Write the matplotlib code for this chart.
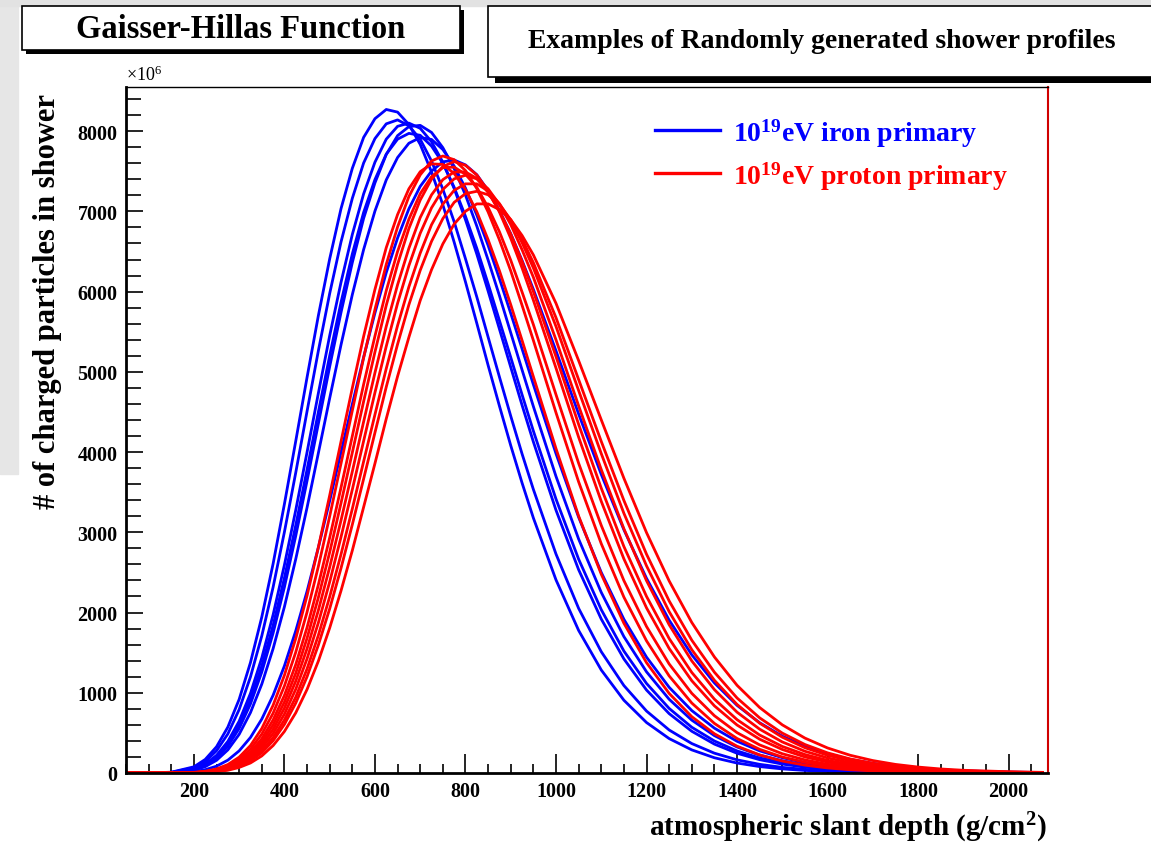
import matplotlib
matplotlib.use("Agg")
import matplotlib.pyplot as plt
from matplotlib.patches import Rectangle
from matplotlib.ticker import MultipleLocator

plt.rcParams['font.family'] = ['Liberation Serif', 'DejaVu Serif']
plt.rcParams['font.weight'] = 'bold'
plt.rcParams['mathtext.default'] = 'regular'

# atmospheric slant depth (g/cm2), shared sampling for every profile
depth = [55, 100, 150,
         200, 225, 250, 275, 300, 325, 350, 375, 400, 425, 450, 475, 500,
         525, 550, 575, 600, 625, 650, 675, 700, 725, 750, 775, 800, 825, 850,
         875, 900, 925, 950,
         1000, 1050, 1100, 1150, 1200, 1250, 1300, 1350, 1400, 1450, 1500, 1550,
         1600, 1650, 1700, 1750, 1800, 1850, 1900,
         2000, 2075]

# charged particles (x10^6), iron primaries
iron_1 = [0, 0, 10,
          77, 169, 327, 572, 918, 1377, 1944, 2608, 3353, 4136, 4931, 5701, 6408,
          7033, 7536, 7922, 8155, 8270, 8237, 8082, 7835, 7491, 7082, 6616, 6121, 5606, 5082,
          4575, 4082, 3616, 3179,
          2407, 1777, 1284, 907, 629, 429, 288, 190, 124, 80, 51, 32, 20, 12, 8, 5, 3, 2, 1,
          0, 0]
iron_2 = [0, 0, 8,
          64, 142, 277, 487, 791, 1198, 1709, 2316, 3004, 3743, 4508, 5263, 5976,
          6618, 7162, 7603, 7907, 8091, 8140, 8067, 7899, 7627, 7277, 6870, 6409, 5934, 5434,
          4937, 4449, 3978, 3535,
          2729, 2052, 1512, 1090, 772, 536, 367, 247, 164, 108, 70, 45, 29, 18, 11, 7, 4, 3, 2,
          1, 0]
iron_3 = [0, 0, 6,
          50, 111, 220, 393, 646, 992, 1435, 1972, 2593, 3276, 3998, 4734, 5451,
          6115, 6712, 7218, 7613, 7900, 8060, 8100, 8035, 7868, 7613, 7285, 6896, 6468, 6007,
          5534, 5058, 4585, 4128,
          3276, 2534, 1919, 1422, 1034, 740, 520, 360, 246, 166, 111, 73, 48, 31, 20, 13, 8, 5, 3,
          1, 0]
iron_4 = [0, 0, 5,
          41, 93, 185, 334, 556, 861, 1258, 1744, 2317, 2955, 3642, 4355, 5065,
          5739, 6362, 6913, 7355, 7709, 7944, 8056, 8072, 7984, 7794, 7534, 7203, 6817, 6394,
          5950, 5487, 5025, 4569,
          3697, 2916, 2251, 1700, 1261, 919, 659, 466, 324, 223, 152, 102, 68, 45, 29, 19, 12, 8, 5,
          2, 1]
iron_5 = [0, 0, 5,
          45, 101, 201, 361, 596, 919, 1334, 1840, 2432, 3086, 3781, 4499, 5201,
          5865, 6469, 6987, 7396, 7713, 7900, 7972, 7948, 7814, 7599, 7300, 6938, 6540, 6098,
          5640, 5181, 4716, 4263,
          3414, 2665, 2036, 1520, 1116, 805, 570, 399, 275, 187, 126, 84, 55, 36, 23, 15, 9, 6, 4,
          1, 0]
iron_6 = [0, 0, 4,
          35, 79, 158, 288, 482, 753, 1108, 1550, 2072, 2666, 3308, 3988, 4671,
          5336, 5962, 6524, 7004, 7392, 7671, 7849, 7920, 7896, 7771, 7564, 7290, 6955, 6576,
          6162, 5729, 5287, 4842,
          3981, 3188, 2500, 1916, 1444, 1068, 778, 559, 395, 276, 191, 130, 88, 59, 39, 26, 17, 11, 7,
          3, 1]
iron_7 = [0, 0, 2,
          17, 41, 85, 160, 276, 443, 672, 969, 1335, 1771, 2265, 2811, 3392,
          3997, 4597, 5183, 5734, 6237, 6668, 7032, 7311, 7502, 7617, 7640, 7579, 7457, 7260,
          7010, 6722, 6388, 6028,
          5262, 4475, 3722, 3032, 2426, 1905, 1473, 1123, 843, 626, 459, 333, 239, 170, 120, 83, 58,
          40, 27,
          12, 6]

# charged particles (x10^6), proton primaries
proton_1 = [0, 0, 1,
            8, 21, 50, 105, 197, 342, 554, 844, 1218, 1676, 2211, 2813, 3460,
            4130, 4798, 5442, 6027, 6548, 6960, 7281, 7494, 7592, 7585, 7472, 7273, 6995, 6647,
            6260, 5837, 5393, 4940,
            4043, 3203, 2478, 1867, 1375, 992, 702, 489, 334, 225, 149, 98, 63, 40, 26, 16, 10, 6, 4,
            2, 1]
proton_2 = [0, 0, 1,
            6, 18, 42, 89, 169, 297, 485, 745, 1085, 1505, 2006, 2575, 3199,
            3857, 4517, 5175, 5777, 6340, 6806, 7185, 7455, 7628, 7690, 7644, 7508, 7285, 6993,
            6646, 6258, 5830, 5392,
            4491, 3629, 2858, 2192, 1647, 1210, 872, 618, 430, 295, 199, 133, 88, 57, 37, 24, 15, 9, 6,
            2, 1]
proton_3 = [0, 0, 0,
            5, 15, 36, 77, 147, 260, 427, 661, 968, 1352, 1814, 2347, 2933,
            3557, 4199, 4844, 5446, 6012, 6500, 6902, 7220, 7432, 7545, 7552, 7462, 7300, 7049,
            6746, 6391, 5995, 5589,
            4716, 3861, 3086, 2398, 1826, 1359, 993, 714, 503, 350, 240, 163, 109, 72, 47, 30, 19, 12,
            8,
            3, 1]
proton_4 = [0, 0, 0,
            5, 13, 32, 68, 131, 233, 385, 600, 885, 1244, 1680, 2188, 2751,
            3363, 3994, 4631, 5247, 5829, 6339, 6786, 7141, 7402, 7559, 7620, 7574, 7454, 7256,
            6992, 6665, 6295, 5893,
            5047, 4186, 3386, 2669, 2058, 1552, 1150, 837, 598, 421, 293, 200, 136, 91, 60, 39, 26, 16,
            10,
            4, 2]
proton_5 = [0, 0, 0,
            4, 12, 28, 61, 117, 210, 348, 545, 809, 1145, 1550, 2028, 2565,
            3148, 3758, 4379, 4988, 5567, 6085, 6540, 6923, 7206, 7395, 7491, 7491, 7411, 7235,
            7007, 6718, 6378, 6001,
            5190, 4345, 3550, 2823, 2201, 1676, 1253, 920, 665, 473, 331, 230, 157, 106, 71, 47, 31, 20,
            13,
            5, 2]
proton_6 = [0, 0, 0,
            4, 10, 25, 53, 104, 187, 313, 493, 734, 1044, 1424, 1873, 2382,
            2940, 3533, 4138, 4741, 5319, 5854, 6323, 6727, 7044, 7273, 7405, 7450, 7405, 7281,
            7087, 6836, 6522, 6179,
            5399, 4577, 3782, 3044, 2397, 1848, 1397, 1039, 758, 546, 387, 271, 188, 128, 87, 58, 38,
            25, 16,
            7, 3]
proton_7 = [0, 0, 0,
            3, 9, 22, 47, 92, 166, 279, 442, 662, 946, 1298, 1717, 2196,
            2725, 3293, 3883, 4467, 5041, 5577, 6060, 6480, 6833, 7090, 7262, 7343, 7343, 7255,
            7097, 6880, 6611, 6295,
            5566, 4767, 3981, 3237, 2582, 2011, 1537, 1155, 854, 621, 446, 315, 221, 152, 104, 70, 47,
            31, 21,
            9, 4]
proton_8 = [0, 0, 0,
            3, 8, 19, 42, 83, 150, 253, 402, 606, 871, 1200, 1595, 2047,
            2552, 3096, 3666, 4242, 4812, 5344, 5836, 6265, 6626, 6910, 7112, 7221, 7250, 7207,
            7085, 6896, 6653, 6360,
            5675, 4904, 4133, 3397, 2727, 2145, 1655, 1256, 935, 687, 497, 355, 251, 175, 121, 82, 56,
            37, 25,
            11, 5]
proton_9 = [0, 0, 0,
            2, 6, 16, 34, 69, 125, 213, 342, 518, 750, 1042, 1395, 1808,
            2271, 2773, 3314, 3858, 4415, 4944, 5431, 5889, 6272, 6594, 6842, 7001, 7093, 7093,
            7022, 6897, 6700, 6457,
            5854, 5140, 4402, 3674, 2996, 2394, 1876, 1446, 1093, 816, 600, 435, 312, 221, 155, 107,
            74, 50, 34,
            16, 8]

iron = [iron_1, iron_2, iron_3, iron_4, iron_5, iron_6, iron_7]
proton = [proton_1, proton_2, proton_3, proton_4, proton_5, proton_6, proton_7,
          proton_8, proton_9]

W, H = 1151, 845
fig = plt.figure(figsize=(W / 100, H / 100), dpi=100)
fig.patch.set_facecolor('white')


def box(x0, y0, x1, y1, **kw):
    # rectangle given in pixels, origin top-left
    return Rectangle((x0 / W, 1 - y1 / H), (x1 - x0) / W, (y1 - y0) / H,
                     transform=fig.transFigure, **kw)


# slide background strips
fig.add_artist(box(0, 0, 18, 475, color='#e6e6e6', zorder=-5))
fig.add_artist(box(0, 0, W, 7, color='#e2e2e2', zorder=-5))

# title boxes with shadows
fig.add_artist(box(26, 11, 464, 55, facecolor='black', edgecolor='none'))
fig.add_artist(box(22, 7, 460, 51, facecolor='white', edgecolor='black', lw=1.2))
fig.text(241 / W, 1 - 30 / H, 'Gaisser-Hillas Function', ha='center', va='center',
         fontsize=23.5)
fig.add_artist(box(495, 13, 1170, 84, facecolor='black', edgecolor='none'))
fig.add_artist(box(488, 7, 1165, 78, facecolor='white', edgecolor='black', lw=1.2))
fig.text(822 / W, 1 - 42 / H, 'Examples of Randomly generated shower profiles',
         ha='center', va='center', fontsize=20)

ax = fig.add_axes([126 / W, 1 - 774 / H, 922 / W, 686 / H])
iron_lines = [ax.plot(depth, c, color='#0000ff', lw=2)[0] for c in iron]
proton_lines = [ax.plot(depth, c, color='#ff0000', lw=2)[0] for c in proton]

ax.set_xlim(50, 2087)
ax.set_ylim(0, 8550)
ax.xaxis.set_major_locator(MultipleLocator(200))
ax.xaxis.set_minor_locator(MultipleLocator(50))
ax.yaxis.set_major_locator(MultipleLocator(1000))
ax.yaxis.set_minor_locator(MultipleLocator(200))
ax.tick_params(which='both', direction='in', top=False, right=False, width=1.2)
ax.tick_params(axis='x', which='major', length=14, labelsize=14.5, pad=6)
ax.tick_params(axis='x', which='minor', length=6.5)
ax.tick_params(axis='y', which='major', length=12, labelsize=14.5, pad=6)
ax.tick_params(axis='y', which='minor', length=11)

ax.spines['left'].set_linewidth(2)
ax.spines['bottom'].set_linewidth(2)
ax.spines['top'].set_linewidth(1)
ax.spines['right'].set_color('#d00000')
ax.spines['right'].set_linewidth(1.5)

ax.text(0, 1.004, '×10$^{6}$', transform=ax.transAxes, ha='left', va='bottom',
        fontsize=13, fontweight='normal')

leg = ax.legend([iron_lines[0], proton_lines[0]],
                ['10$^{19}$eV iron primary', '10$^{19}$eV proton primary'],
                loc='upper left', bbox_to_anchor=(655 / W, 1 - 117 / H),
                bbox_transform=fig.transFigure, frameon=False, fontsize=20,
                handlelength=2.35, handletextpad=0.45, labelspacing=0.38,
                borderpad=0, borderaxespad=0)
for t, col in zip(leg.get_texts(), ['#0000ff', '#ff0000']):
    t.set_color(col)
for l in leg.get_lines():
    l.set_linewidth(2.4)

fig.text(1047 / W, 1 - 828 / H, 'atmospheric slant depth (g/cm$^{2}$)',
         ha='right', va='center', fontsize=21)
fig.text(48 / W, 1 - 302 / H, '# of charged particles in shower', rotation=90,
         ha='center', va='center', fontsize=22)

fig.savefig('out.png', dpi=100)
